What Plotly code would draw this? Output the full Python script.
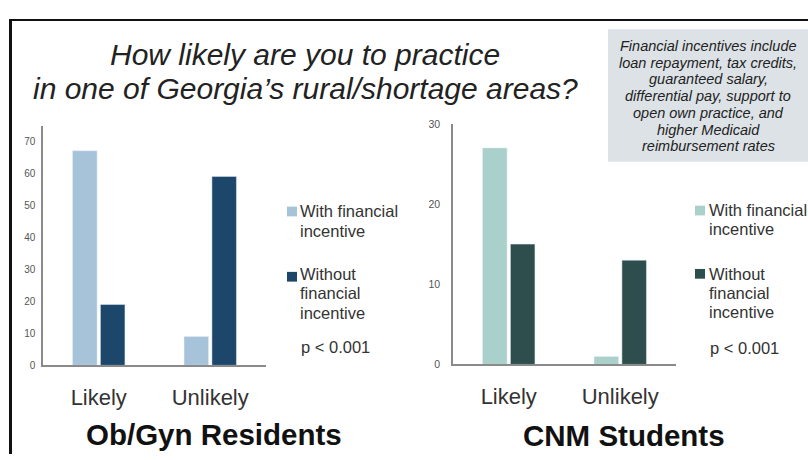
import plotly.graph_objects as go

W, H = 808, 460

categories = ["Likely", "Unlikely"]
obgyn_with = [67, 9]
obgyn_without = [19, 59]
cnm_with = [27, 1]
cnm_without = [15, 13]
obgyn_ticks = [0, 10, 20, 30, 40, 50, 60, 70]
cnm_ticks = [0, 10, 20, 30]
legend_with = ["With financial", "incentive"]
legend_without = ["Without", "financial", "incentive"]
p_text = "p < 0.001"
title_lines = ["How likely are you to practice", "in one of Georgia’s rural/shortage areas?"]
box_lines = ["Financial incentives include", "loan repayment, tax credits,", "guaranteed salary,",
             "differential pay, support to", "open own practice, and", "higher Medicaid",
             "reimbursement rates"]
panel_titles = ["Ob/Gyn Residents", "CNM Students"]

c_ob_light, c_ob_dark = "#a6c3da", "#1c476a"
c_cnm_light, c_cnm_dark = "#a9d0cb", "#2d4e4c"

FONT = "Liberation Sans, Arial, sans-serif"


def px(x):
    return x / W


def py(y):
    return 1 - y / H


fig = go.Figure()
fig.add_trace(go.Bar(x=categories, y=obgyn_with, marker_color=c_ob_light, xaxis="x", yaxis="y", showlegend=False))
fig.add_trace(go.Bar(x=categories, y=obgyn_without, marker_color=c_ob_dark, xaxis="x", yaxis="y", showlegend=False))
fig.add_trace(go.Bar(x=categories, y=cnm_with, marker_color=c_cnm_light, xaxis="x2", yaxis="y2", showlegend=False))
fig.add_trace(go.Bar(x=categories, y=cnm_without, marker_color=c_cnm_dark, xaxis="x2", yaxis="y2", showlegend=False))

axis_common = dict(showgrid=False, zeroline=False, showline=True, linecolor="#8a8a8a", linewidth=1.5,
                   ticks="", fixedrange=True)

fig.update_layout(
    width=W, height=H,
    margin=dict(l=0, r=0, t=0, b=0),
    paper_bgcolor="white", plot_bgcolor="rgba(0,0,0,0)",
    barmode="group", bargap=0.5, bargroupgap=0.12,
    showlegend=False,
    font=dict(family=FONT, color="#333"),
    xaxis=dict(domain=[px(43), px(266)], anchor="y", tickfont=dict(size=22, color="#333"),
               ticklabelstandoff=11, **axis_common),
    yaxis=dict(domain=[py(369), py(123)], anchor="x", range=[0, 74.8], tickvals=obgyn_ticks,
               tickfont=dict(size=10, color="#555"), ticklabelstandoff=4, **axis_common),
    xaxis2=dict(domain=[px(453), px(676)], anchor="y2", tickfont=dict(size=22, color="#333"),
                ticklabelstandoff=11, **axis_common),
    yaxis2=dict(domain=[py(368), py(121)], anchor="x2", range=[0, 30], tickvals=cnm_ticks,
                tickfont=dict(size=10.5, color="#555"), ticklabelstandoff=9, **axis_common),
)

shapes = []
# frame lines
shapes.append(dict(type="line", xref="paper", yref="paper", x0=px(9), x1=px(808), y0=py(14.5), y1=py(14.5),
                   line=dict(color="#111", width=2)))
shapes.append(dict(type="line", xref="paper", yref="paper", x0=px(10.5), x1=px(10.5), y0=py(14), y1=py(460),
                   line=dict(color="#111", width=3)))
# info box
shapes.append(dict(type="rect", xref="paper", yref="paper", x0=px(608), x1=px(808), y0=py(160), y1=py(24),
                   fillcolor="#dde2e7", line=dict(width=0), layer="below"))
# legend swatches
for (x0, y0, col) in [(287, 206, c_ob_light), (287, 273, c_ob_dark), (695, 205, c_cnm_light), (695, 270, c_cnm_dark)]:
    shapes.append(dict(type="rect", xref="paper", yref="paper", x0=px(x0), x1=px(x0 + 10), y0=py(y0 + 10), y1=py(y0),
                       fillcolor=col, line=dict(width=0)))
fig.update_layout(shapes=shapes)

ann = []


def text(t, x, y, size, color="#333", xanchor="left"):
    ann.append(dict(text=t, x=px(x), y=py(y), xref="paper", yref="paper", showarrow=False,
                    xanchor=xanchor, yanchor="middle", font=dict(size=size, color=color)))


for ty, t in zip([50, 85], title_lines):
    text(f"<i>{t}</i>", 305, ty, 30, "#222", "center")
for i, t in enumerate(box_lines):
    text(f"<i>{t}</i>", 708, 41 + i * 17.2, 14.5, "#222", "center")
for (lx, ys, pyv, fs) in [(298, [211, 231, 275, 295, 315], 350, 16.5), (707, [209, 229, 275, 295, 314], 351, 16.5)]:
    for t, yt in zip(legend_with + legend_without, ys):
        text(t, lx, yt, fs)
    text(p_text, lx + 1, pyv, fs)
for (cx, cy, t) in [(214, 440, panel_titles[0]), (624, 441, panel_titles[1])]:
    text(f"<b>{t}</b>", cx, cy, 29.5, "#111", "center")
fig.update_layout(annotations=ann)

fig.write_html("out.html", config=dict(displayModeBar=False))
